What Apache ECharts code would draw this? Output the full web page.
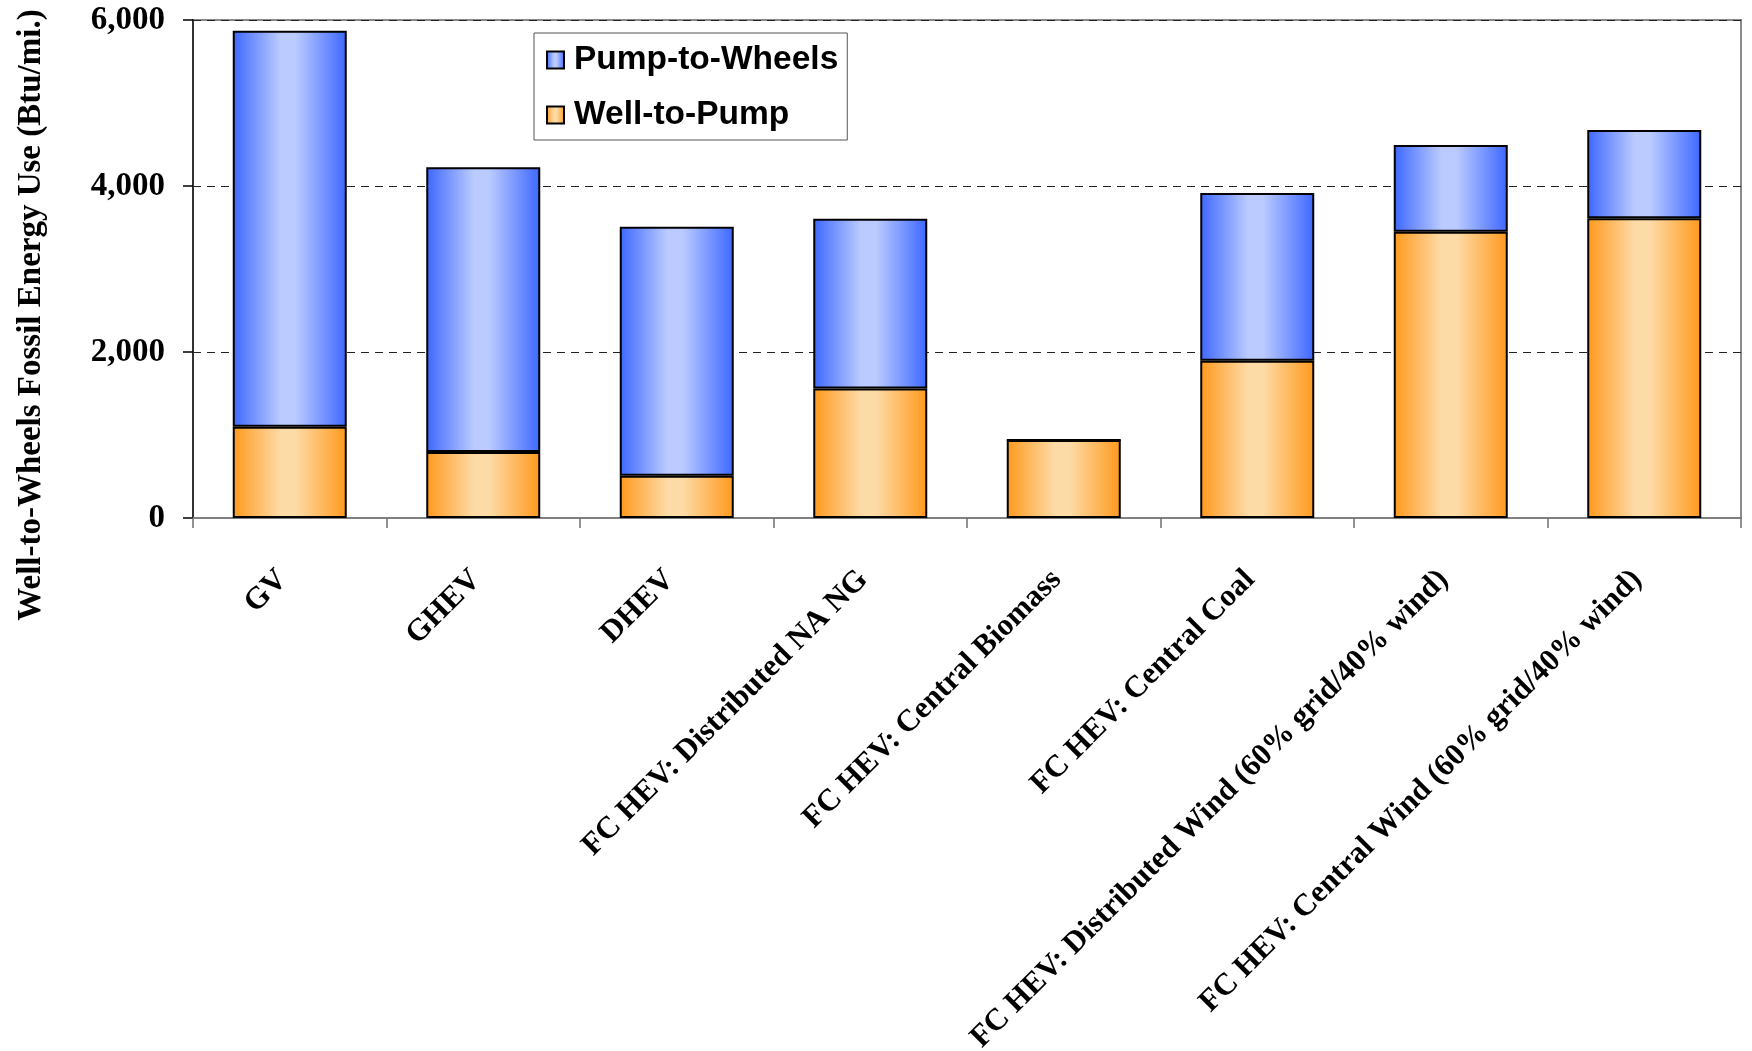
<!DOCTYPE html>
<html>
<head>
<meta charset="utf-8">
<title>Well-to-Wheels Fossil Energy Use</title>
<script src="https://cdn.jsdelivr.net/npm/echarts@6/dist/echarts.min.js"></script>
<style>
  html, body { margin: 0; padding: 0; background: #fff; }
  #chart { width: 1752px; height: 1051px; }
</style>
</head>
<body>
<div id="chart"></div>
<script>
// Vehicle / fuel pathways
const categories = [
  'GV',
  'GHEV',
  'DHEV',
  'FC HEV: Distributed NA NG',
  'FC HEV: Central Biomass',
  'FC HEV: Central Coal',
  'FC HEV: Distributed Wind (60% grid/40% wind)',
  'FC HEV: Central Wind (60% grid/40% wind)'
];

// Fossil energy use, Btu per mile
const wellToPump     = [1100, 795, 510, 1560, 940, 1895, 3450, 3610];
const pumpToWheels   = [4770, 3430, 3000, 2045, 0, 2020, 1045, 1065];

const yTicks = { min: 0, max: 6000, interval: 2000 };
const yTitle = 'Well-to-Wheels Fossil Energy Use (Btu/mi.)';

const serif = '"Liberation Serif", "Times New Roman", serif';
const sans = '"Liberation Sans", Arial, sans-serif';

function barGradient(edge, mid) {
  return new echarts.graphic.LinearGradient(0, 0, 1, 0, [
    { offset: 0, color: edge },
    { offset: 0.42, color: mid },
    { offset: 0.55, color: mid },
    { offset: 1, color: edge }
  ]);
}

const blueFill = barGradient('#3D67FF', '#BBCBFF');
const orangeFill = barGradient('#FF991C', '#FDDBA7');

const chart = echarts.init(document.getElementById('chart'), null, { renderer: 'canvas' });

chart.setOption({
  animation: false,
  backgroundColor: '#ffffff',
  grid: {
    left: 193,
    right: 11,
    top: 20,
    bottom: 533,
    outerBoundsMode: 'none',
    containLabel: false,
    show: true,
    borderColor: '#8a8a8a',
    borderWidth: 2,
    backgroundColor: 'transparent'
  },
  // rotated value-axis title, centred a little below the plot's middle
  graphic: [{
    type: 'text',
    x: 31,
    y: 315,
    rotation: Math.PI / 2,
    style: {
      text: yTitle,
      fontFamily: serif,
      fontWeight: 'bold',
      fontSize: 33,
      fill: '#000',
      align: 'center',
      verticalAlign: 'middle'
    }
  }],
  legend: {
    data: ['Pump-to-Wheels', 'Well-to-Pump'],
    orient: 'vertical',
    left: 534,
    top: 33,
    padding: [10, 9, 8, 12],
    itemGap: 21,
    itemWidth: 17,
    itemHeight: 17,
    icon: 'rect',
    backgroundColor: '#ffffff',
    borderColor: '#555555',
    borderWidth: 1,
    selectedMode: false,
    textStyle: {
      fontFamily: sans,
      fontWeight: 'bold',
      fontSize: 33.5,
      lineHeight: 34,
      color: '#000',
      padding: [0, 0, 0, 5]
    }
  },
  xAxis: {
    type: 'category',
    data: categories,
    boundaryGap: true,
    axisLine: { show: true, lineStyle: { color: '#808080', width: 2 } },
    axisTick: {
      show: true,
      alignWithLabel: false,
      inside: false,
      length: 10,
      lineStyle: { color: '#707070', width: 1.5 }
    },
    axisLabel: {
      interval: 0,
      rotate: 45,
      margin: 50,
      padding: [0, 10, 0, 0],
      fontFamily: serif,
      fontWeight: 'bold',
      fontSize: 31,
      color: '#000'
    },
    splitLine: { show: false }
  },
  yAxis: {
    type: 'value',
    min: yTicks.min,
    max: yTicks.max,
    interval: yTicks.interval,
    axisLine: { show: true, lineStyle: { color: '#333333', width: 2 } },
    axisTick: { show: true, length: 10, lineStyle: { color: '#000', width: 1.5 } },
    axisLabel: {
      margin: 28,
      fontFamily: serif,
      fontWeight: 'bold',
      fontSize: 33,
      color: '#000',
      formatter: v => v.toLocaleString('en-US')
    },
    splitLine: {
      show: true,
      lineStyle: { color: '#222', type: [8, 6], width: 1 }
    }
  },
  series: [
    {
      name: 'Well-to-Pump',
      type: 'bar',
      stack: 'wtw',
      data: wellToPump,
      barWidth: 114,
      itemStyle: { color: orangeFill, borderColor: '#000', borderWidth: 2 }
    },
    {
      name: 'Pump-to-Wheels',
      type: 'bar',
      stack: 'wtw',
      data: pumpToWheels,
      barWidth: 114,
      itemStyle: { color: blueFill, borderColor: '#000', borderWidth: 2 }
    }
  ]
});
</script>
</body>
</html>
